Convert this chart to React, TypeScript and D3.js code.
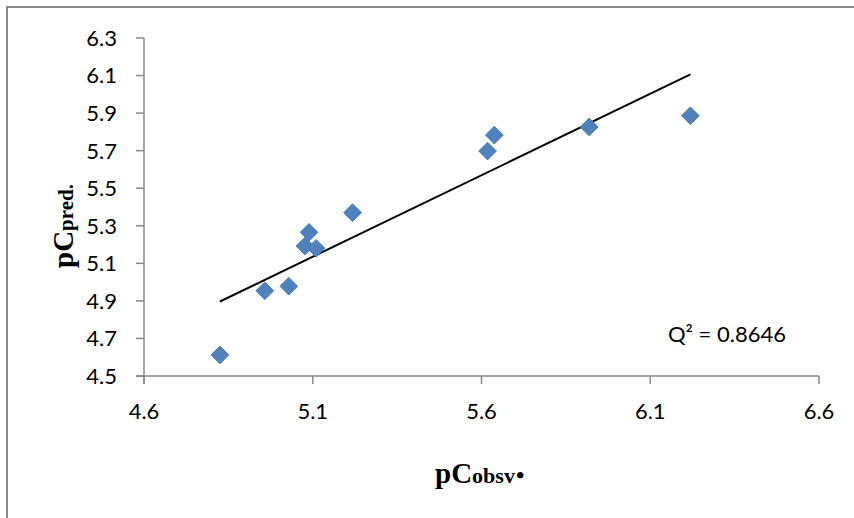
import React from "react";
import * as d3 from "d3";

const pcObserved = [4.825, 4.958, 5.029, 5.077, 5.089, 5.11, 5.218, 5.618, 5.638, 5.919, 6.219];
const pcPredicted = [4.612, 4.954, 4.978, 5.192, 5.265, 5.18, 5.37, 5.698, 5.783, 5.826, 5.886];
const xTicks = [4.6, 5.1, 5.6, 6.1, 6.6];
const yTicks = [4.5, 4.7, 4.9, 5.1, 5.3, 5.5, 5.7, 5.9, 6.1, 6.3];
const q2Label = "Q² = 0.8646";

const W = 854;
const H = 518;
const TICK_FONT = "Lato, 'Open Sans', sans-serif";
const AXIS_COLOR = "#898989";
const MARKER = "#4f81bd";

export default function App() {
  const x = d3.scaleLinear().domain([4.6, 6.6]).range([144, 819]);
  const y = d3.scaleLinear().domain([4.5, 6.3]).range([376, 38]);

  const pts = pcObserved.map((v, i) => ({ x: v, y: pcPredicted[i] }));
  const mx = d3.mean(pcObserved) as number;
  const my = d3.mean(pcPredicted) as number;
  let sxy = 0;
  let sxx = 0;
  pts.forEach((p) => {
    sxy += (p.x - mx) * (p.y - my);
    sxx += (p.x - mx) * (p.x - mx);
  });
  const slope = sxy / sxx;
  const icpt = my - slope * mx;
  const x0 = d3.min(pcObserved) as number;
  const x1 = d3.max(pcObserved) as number;
  const trend = d3
    .line<number>()
    .x((d) => x(d))
    .y((d) => y(icpt + slope * d))([x0, x1]) as string;

  const diamond = d3.symbol().type(d3.symbolDiamond2).size(200)() as string;

  return (
    <svg
      width={W}
      height={H}
      style={{ position: "absolute", left: 0, top: 0, background: "#fff" }}
    >
      <rect x={0} y={0} width={W} height={H} fill="#fff" />
      {/* chart frame (only top & left visible) */}
      <path d={`M7,${H + 5} L7,7 L${W + 5},7`} fill="none" stroke={AXIS_COLOR} strokeWidth={2} />

      {/* y axis */}
      <line x1={x(4.6)} x2={x(4.6)} y1={y(6.3)} y2={y(4.5) + 8} stroke={AXIS_COLOR} strokeWidth={1.5} />
      {yTicks.map((t) => (
        <g key={"y" + t}>
          <line x1={x(4.6) - 8} x2={x(4.6)} y1={y(t)} y2={y(t)} stroke={AXIS_COLOR} strokeWidth={1.5} />
          <text
            x={117}
            y={y(t)}
            dy="0.36em"
            textAnchor="end"
            fontFamily={TICK_FONT}
            fontSize={22}
            fill="#000"
          >
            {t.toFixed(1)}
          </text>
        </g>
      ))}

      {/* x axis */}
      <line x1={x(4.6) - 8} x2={x(6.6)} y1={y(4.5)} y2={y(4.5)} stroke={AXIS_COLOR} strokeWidth={1.5} />
      {xTicks.map((t) => (
        <g key={"x" + t}>
          <line x1={x(t)} x2={x(t)} y1={y(4.5)} y2={y(4.5) + 8} stroke={AXIS_COLOR} strokeWidth={1.5} />
          <text
            x={x(t)}
            y={419}
            textAnchor="middle"
            fontFamily={TICK_FONT}
            fontSize={22}
            fill="#000"
          >
            {t.toFixed(1)}
          </text>
        </g>
      ))}

      {/* trend line */}
      <path d={trend} fill="none" stroke="#000" strokeWidth={2} />

      {/* markers */}
      {pts.map((p, i) => (
        <path
          key={i}
          d={diamond}
          transform={`translate(${x(p.x)},${y(p.y)})`}
          fill={MARKER}
          stroke="#4a7ebb"
          strokeWidth={1}
        />
      ))}

      {/* Q2 label */}
      <text x={668} y={342} fontFamily={TICK_FONT} fontSize={22} fill="#000">
        {q2Label}
      </text>

      {/* x title */}
      <text
        x={435}
        y={483}
        fontFamily="'Liberation Serif', 'Times New Roman', serif"
        fontWeight="bold"
        fill="#000"
      >
        <tspan fontSize={29}>pC</tspan>
        <tspan fontSize={22}>obsv</tspan>
        <tspan fontSize={24} dx={1}>•</tspan>
      </text>

      {/* y title */}
      <text
        transform={`translate(73,268) rotate(-90)`}
        fontFamily="'Liberation Serif', 'Times New Roman', serif"
        fontWeight="bold"
        fill="#000"
      >
        <tspan fontSize={29}>pC</tspan>
        <tspan fontSize={21}>pred.</tspan>
      </text>
    </svg>
  );
}
